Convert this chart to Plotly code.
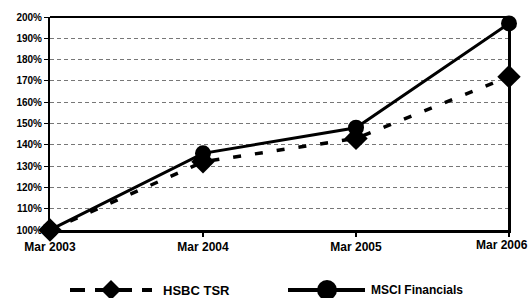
import plotly.graph_objects as go

categories = ["Mar 2003", "Mar 2004", "Mar 2005", "Mar 2006"]
hsbc_tsr = [100, 132, 143, 172]
msci_fin = [100, 136, 148, 197]
series_names = ["HSBC TSR", "MSCI Financials"]
y_ticks = [100, 110, 120, 130, 140, 150, 160, 170, 180, 190, 200]
y_tick_labels = [f"{v}%" for v in y_ticks]

W, H = 532, 298
L, R, T, B = 50, 23, 17, 68
PW, PH = W - L - R, H - T - B

FONT = "Liberation Sans, Arial, sans-serif"


def px(xp):
    return (xp - L) / PW


def py(yp):
    return (H - B - yp) / PH


fig = go.Figure()
fig.add_trace(go.Scatter(
    x=categories, y=hsbc_tsr, name=series_names[0], mode="lines+markers",
    line=dict(color="black", width=3.5, dash="8px,14px"),
    marker=dict(symbol="diamond", size=18, color="black"),
    cliponaxis=False, showlegend=False,
))
fig.add_trace(go.Scatter(
    x=categories, y=msci_fin, name=series_names[1], mode="lines+markers",
    line=dict(color="black", width=3),
    marker=dict(symbol="circle", size=16, color="black"),
    cliponaxis=False, showlegend=False,
))

fig.update_layout(
    width=W, height=H,
    margin=dict(l=L, r=R, t=T, b=B, autoexpand=False),
    paper_bgcolor="white", plot_bgcolor="white",
    font=dict(family=FONT, size=11, color="black"),
    showlegend=False,
    xaxis=dict(
        type="category", range=[0, 3],
        showline=True, linecolor="black", linewidth=3, mirror=False,
        showgrid=False, ticks="outside", ticklen=4, tickcolor="black", tickwidth=2,
        tickvals=categories,
        ticktext=[f"<b>{c}</b>" for c in categories[:-1]] + [""],
        tickfont=dict(size=12),
    ),
    yaxis=dict(
        range=[100, 200],
        tickvals=y_ticks, ticktext=[f"<b>{t}</b>" for t in y_tick_labels],
        showline=True, linecolor="black", linewidth=2, mirror=True,
        ticks="outside", ticklen=4, tickcolor="black", tickwidth=1,
        showgrid=True, gridcolor="#777777", gridwidth=1, griddash="4px,3px",
        zeroline=False, tickfont=dict(size=10),
    ),
)
# last x label, right-aligned so it stays inside the page
fig.add_annotation(x=categories[-1], y=0, xref="x", yref="paper", yanchor="top",
                   xanchor="right", xshift=21, yshift=-6, showarrow=False,
                   text=f"<b>{categories[-1]}</b>", font=dict(size=12))

# top and right border
fig.add_shape(type="line", xref="paper", yref="paper", x0=0, x1=1, y0=1, y1=1,
              line=dict(color="black", width=2))
fig.add_shape(type="line", xref="paper", yref="paper", x0=1, x1=1, y0=0, y1=1,
              line=dict(color="black", width=2))

# custom legend
ly = py(290)
# HSBC: dashed line with diamond
for a, b in [(70, 85), (95, 132), (142, 152)]:
    fig.add_shape(type="line", xref="paper", yref="paper", x0=px(a), x1=px(b),
                  y0=ly, y1=ly, line=dict(color="black", width=4))
fig.add_shape(type="path", xref="paper", yref="paper", xsizemode="pixel",
              ysizemode="pixel", xanchor=px(111), yanchor=ly,
              path="M -10 0 L 0 10 L 10 0 L 0 -10 Z",
              fillcolor="black", line=dict(color="black", width=0))
fig.add_annotation(x=px(161), y=ly, xref="paper", yref="paper", xanchor="left",
                   yanchor="middle", showarrow=False, text=f"<b>{series_names[0]}</b>",
                   font=dict(size=13))
# MSCI: solid line with circle
fig.add_shape(type="line", xref="paper", yref="paper", x0=px(288), x1=px(365),
              y0=ly, y1=ly, line=dict(color="black", width=4))
fig.add_shape(type="circle", xref="paper", yref="paper", xsizemode="pixel",
              ysizemode="pixel", xanchor=px(327), yanchor=ly,
              x0=-10, x1=10, y0=-10, y1=10,
              fillcolor="black", line=dict(color="black", width=0))
fig.add_annotation(x=px(369), y=ly, xref="paper", yref="paper", xanchor="left",
                   yanchor="middle", showarrow=False, text=f"<b>{series_names[1]}</b>",
                   font=dict(size=12))

fig.write_html("out.html", config={"displayModeBar": False},
               post_script="document.body.style.margin='0';")
